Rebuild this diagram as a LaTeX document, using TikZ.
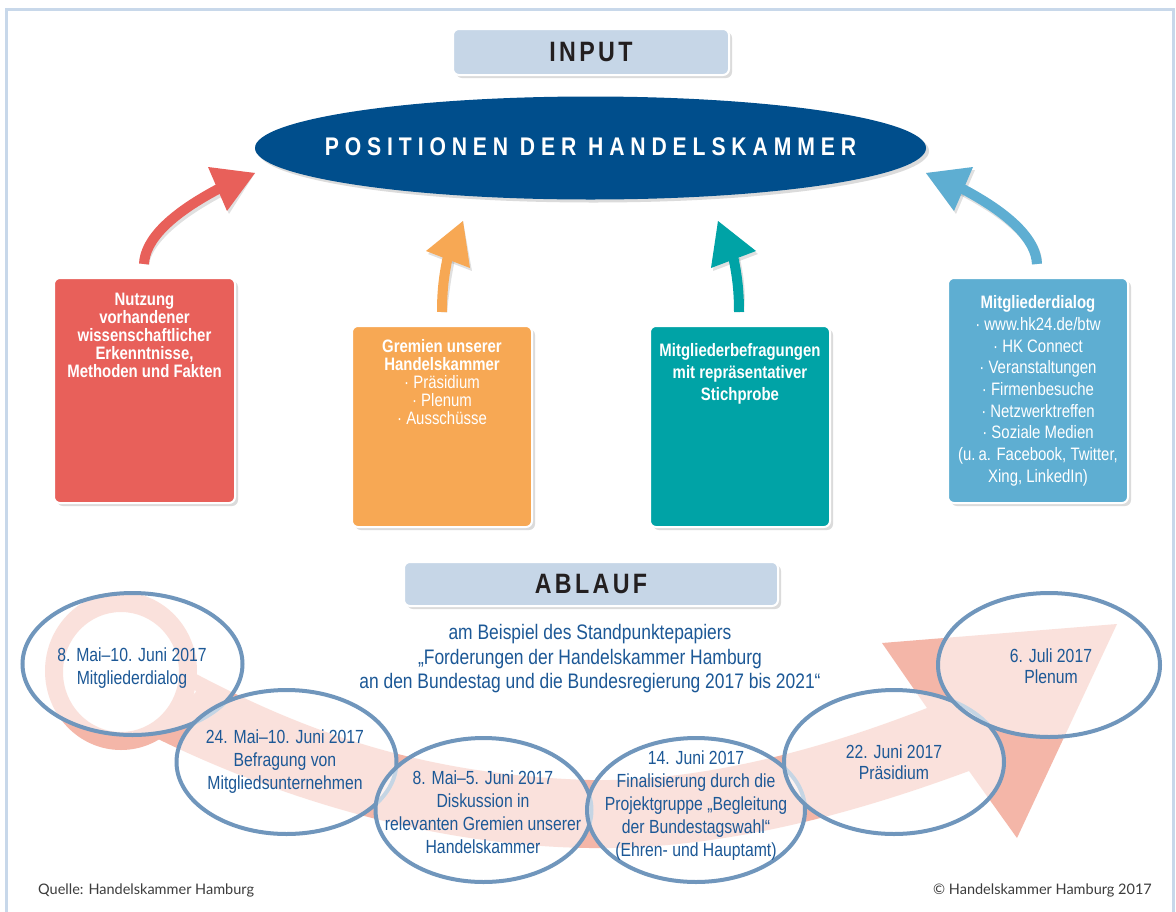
\documentclass[tikz,border=0pt]{standalone}
\usepackage{fontspec}
\setmainfont{Liberation Sans}[FakeStretch=0.83]
\newfontfamily\headfont{Liberation Sans}[FakeStretch=0.83,LetterSpace=12]
\newfontfamily\ellfont{Liberation Sans}[FakeStretch=0.83,LetterSpace=23]
\newfontfamily\footfont{Lato}
\usetikzlibrary{shadows,shapes.geometric}
\definecolor{redc}{RGB}{232,96,90}
\definecolor{orangec}{RGB}{247,168,84}
\definecolor{tealc}{RGB}{0,163,166}
\definecolor{bluec}{RGB}{94,174,210}
\definecolor{ellc}{RGB}{0,78,140}
\definecolor{headc}{RGB}{198,214,231}
\definecolor{headtext}{RGB}{35,31,32}
\definecolor{framec}{RGB}{200,216,234}
\definecolor{salmon}{RGB}{244,182,168}
\definecolor{circc}{RGB}{112,150,188}
\definecolor{tblue}{RGB}{28,88,150}
\definecolor{footc}{RGB}{60,60,60}
\tikzset{
  myshadow/.style={drop shadow={shadow xshift=3pt,shadow yshift=-3pt,opacity=0.2,fill=black!70}},
  headbox/.style={rounded corners=6pt, fill=headc, draw=white, line width=2pt, myshadow, inner sep=0pt},
  headlabel/.style={text=headtext, font=\headfont\bfseries\fontsize{28}{30}\selectfont, inner sep=0pt},
  inbox/.style={rounded corners=6pt, draw=white, line width=2pt, myshadow, inner sep=0pt},
  boxtext/.style={anchor=north, align=center, text=white, inner sep=0pt, font=\fontsize{18}{18}\selectfont},
  shaftline/.style={line width=10pt},
  shaftshadow/.style={line width=10pt, black, opacity=0.12},
  ring/.style={draw=circc, line width=4pt, fill=white, fill opacity=0.6},
  circtext/.style={align=center, text=tblue, inner sep=0pt, font=\fontsize{19}{23}\selectfont},
}
\begin{document}
\begin{tikzpicture}[x=1pt,y=-1pt]
\useasboundingbox (0,0) rectangle (1176,911);
\fill[white] (0,0) rectangle (1176,911);
\draw[framec, line width=3pt] (6,9) rectangle (1173,940);

% ---------- INPUT ----------
\node[headbox, minimum width=276pt, minimum height=46pt] (input) at (591,52) {};
\node[headlabel] (inputl) at (input.center) {INPUT};

\node[ellipse, fill=ellc, minimum width=671pt, minimum height=103pt, inner sep=0pt, myshadow] (pos) at (590.5,148) {};
\node[text=white, inner sep=0pt, font=\ellfont\bfseries\fontsize{25.5}{27}\selectfont] (posl) at ([yshift=1.5pt]pos.center) {POSITIONEN DER HANDELSKAMMER};

% ---------- boxes ----------
\node[inbox, fill=redc, minimum width=181pt, minimum height=225pt] (rbox) at (144.5,390.5) {};
\node[inbox, fill=orangec, minimum width=180pt, minimum height=201pt] (obox) at (442,426.5) {};
\node[inbox, fill=tealc, minimum width=180pt, minimum height=201pt] (tbox) at (740,426.5) {};
\node[inbox, fill=bluec, minimum width=180pt, minimum height=225pt] (bbox) at (1038,390.5) {};

\node[boxtext, font=\bfseries\fontsize{18}{18}\selectfont] (rtext) at ([yshift=-15.5pt]rbox.north)
  {Nutzung\\vorhandener\\wissenschaftlicher\\Erkenntnisse,\\Methoden und Fakten};
\node[boxtext] (otext) at ([yshift=-14.5pt]obox.north)
  {\textbf{Gremien unserer}\\\textbf{Handelskammer}\\· Präsidium\\· Plenum\\· Ausschüsse};
\node[boxtext, font=\bfseries\fontsize{18}{22}\selectfont] (ttext) at ([yshift=-18.5pt]tbox.north)
  {Mitgliederbefragungen\\mit repräsentativer\\Stichprobe};
\node[boxtext, font=\fontsize{18}{21.7}\selectfont] (btext) at ([yshift=-18.5pt]bbox.north)
  {\textbf{Mitgliederdialog}\\· www.hk24.de/btw\\· HK Connect\\· Veranstaltungen\\· Firmenbesuche\\· Netzwerktreffen\\· Soziale Medien\\(u.\,a. Facebook, Twitter,\\Xing, LinkedIn)};

% ---------- arrows ----------
\coordinate (rs) at ([xshift=-0.5pt,yshift=13pt]rbox.north);
\coordinate (os) at ([yshift=13pt]obox.north);
\coordinate (ts) at ([xshift=-1pt,yshift=13pt]tbox.north);
\coordinate (bs) at ([xshift=-1pt,yshift=13pt]bbox.north);
\coordinate (rt) at (255,173);
\coordinate (ot) at (463,221);
\coordinate (tt) at (718,221);
\coordinate (bt) at (926,173);

\begin{scope}[shift={(2,3)}]
\draw[shaftshadow] (rs) .. controls (145,240) and (170,214) .. (222,187);
\fill[black, opacity=0.12] (208,167) -- (rt) -- (227,211) -- cycle;
\draw[shaftshadow] (os) .. controls (442,290) and (444,275) .. (448,256);
\fill[black, opacity=0.12] (426,251) -- (ot) -- (470,268) -- cycle;
\draw[shaftshadow] (ts) .. controls (739,290) and (737,275) .. (733,256);
\fill[black, opacity=0.12] (711,268) -- (tt) -- (756,251) -- cycle;
\draw[shaftshadow] (bs) .. controls (1036,240) and (1011,214) .. (959,187);
\fill[black, opacity=0.12] (973,167) -- (bt) -- (954,211) -- cycle;
\end{scope}

\draw[shaftline, redc] (rs) .. controls (145,240) and (170,214) .. (222,187);
\fill[redc] (208,167) -- (rt) -- (227,211) -- cycle;
\draw[shaftline, orangec] (os) .. controls (442,290) and (444,275) .. (448,256);
\fill[orangec] (426,251) -- (ot) -- (470,268) -- cycle;
\draw[shaftline, tealc] (ts) .. controls (739,290) and (737,275) .. (733,256);
\fill[tealc] (711,268) -- (tt) -- (756,251) -- cycle;
\draw[shaftline, bluec] (bs) .. controls (1036,240) and (1011,214) .. (959,187);
\fill[bluec] (973,167) -- (bt) -- (954,211) -- cycle;

% ---------- ABLAUF ----------
\node[headbox, minimum width=374pt, minimum height=44pt] (ablauf) at (591,584) {};
\node[headlabel] (ablaufl) at (ablauf.center) {ABLAUF};

\node[align=center, text=tblue, inner sep=0pt, font=\fontsize{21}{24.5}\selectfont] (sub) at (590,659)
  {am Beispiel des Standpunktepapiers\\„Forderungen der Handelskammer Hamburg\\an den Bundestag und die Bundesregierung 2017 bis 2021“};

% ---------- ribbon arrow ----------
\fill[salmon, even odd rule] (121,671) ellipse [x radius=76, y radius=79] (121,672) ellipse [x radius=58, y radius=60];
\fill[salmon] (185,668) .. controls (300,730) and (420,775) .. (590,780)
  .. controls (700,782) and (820,750) .. (927,708) -- (882,643) -- (1117,624) -- (1017,838) -- (969,771)
  .. controls (850,815) and (720,850) .. (590,848)
  .. controls (420,846) and (260,790) .. (150,735) -- (196,692) -- cycle;

% ---------- circles ----------
\draw[ring] (132.5,664) ellipse [x radius=110, y radius=71];
\draw[ring] (286.5,762) ellipse [x radius=110, y radius=72];
\draw[ring] (483.5,810) ellipse [x radius=108, y radius=72];
\draw[ring] (696,810) ellipse [x radius=109, y radius=72];
\draw[ring] (894,762) ellipse [x radius=110, y radius=72];
\draw[ring] (1049,665) ellipse [x radius=111, y radius=72];

\node[circtext] (c1) at (132,668.5) {8. Mai–10. Juni 2017\\Mitgliederdialog};
\node[circtext] (c2) at (285,761.5) {24. Mai–10. Juni 2017\\Befragung von\\Mitgliedsunternehmen};
\node[circtext] (c3) at (483,812.5) {8. Mai–5. Juni 2017\\Diskussion in\\relevanten Gremien unserer\\Handelskammer};
\node[circtext] (c4) at (696,806) {14. Juni 2017\\Finalisierung durch die\\Projektgruppe „Begleitung\\der Bundestagswahl“\\(Ehren- und Hauptamt)};
\node[circtext, font=\fontsize{19}{21}\selectfont] (c5) at (894,762.5) {22. Juni 2017\\Präsidium};
\node[circtext, font=\fontsize{19}{21}\selectfont] (c6) at (1051,666.5) {6. Juli 2017\\Plenum};

% ---------- footer ----------
\node[anchor=west, text=footc, inner sep=0pt, font=\footfont\fontsize{14.5}{16}\selectfont] (src) at (38,890) {Quelle: Handelskammer Hamburg};
\node[anchor=east, text=footc, inner sep=0pt, font=\footfont\fontsize{14.5}{16}\selectfont] (copy) at (1152,890) {© Handelskammer Hamburg 2017};
\end{tikzpicture}
\end{document}
